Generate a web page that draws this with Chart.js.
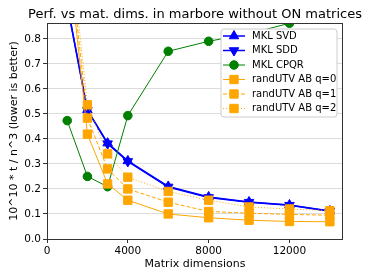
<!DOCTYPE html>
<html>
<head>
<meta charset="utf-8">
<script src="https://cdn.jsdelivr.net/npm/chart.js"></script>
<style>
html,body{margin:0;padding:0;background:#fff;}
#wrap{width:374px;height:280px;}
</style>
</head>
<body>
<div id="wrap"><canvas id="c" width="374" height="280"></canvas></div>
<script>
const dims = [1000, 2000, 3000, 4000, 6000, 8000, 10000, 12000, 14000];
const mklSvd = [0.94, 0.516, 0.383, 0.312, 0.21, 0.168, 0.148, 0.136, 0.112];
const mklSdd = [0.935, 0.514, 0.381, 0.31, 0.208, 0.166, 0.147, 0.135, 0.111];
const mklCpqr = [0.473, 0.25, 0.209, 0.493, 0.75, 0.79, 0.82, 0.862, 0.9];
const randQ0 = [1.18, 0.419, 0.22, 0.155, 0.1, 0.085, 0.075, 0.07, 0.069];
const randQ1 = [1.22, 0.483, 0.28, 0.2, 0.147, 0.11, 0.103, 0.098, 0.095];
const randQ2 = [1.29, 0.536, 0.34, 0.247, 0.19, 0.155, 0.128, 0.12, 0.113];
const yTicks = [0, 0.1, 0.2, 0.3, 0.4, 0.5, 0.6, 0.7, 0.8];
const xTicks = [0, 4000, 8000, 12000];
const labels = ['MKL SVD', 'MKL SDD', 'MKL CPQR', 'randUTV AB q=0', 'randUTV AB q=1', 'randUTV AB q=2'];

const FONT = 'DejaVu Sans';
const BLUE = '#0000ff', GREEN = '#008000', ORANGE = '#ffa500';

function pts(arr) { return dims.map((d, i) => ({x: d, y: arr[i]})); }

const styles = [
  {color: BLUE, style: 'triangle', rot: 0, r: 5.5, lw: 1.5, dash: []},
  {color: BLUE, style: 'triangle', rot: 180, r: 5.5, lw: 1.5, dash: []},
  {color: GREEN, style: 'circle', rot: 0, r: 4.3, lw: 1, dash: []},
  {color: ORANGE, style: 'rect', rot: 0, r: 5.9, lw: 1, dash: []},
  {color: ORANGE, style: 'rect', rot: 0, r: 5.9, lw: 1, dash: [4, 2]},
  {color: ORANGE, style: 'rect', rot: 0, r: 5.9, lw: 1, dash: [1, 2]}
];
const series = [mklSvd, mklSdd, mklCpqr, randQ0, randQ1, randQ2];

const datasets = series.map((s, i) => ({
  label: labels[i],
  data: pts(s),
  borderColor: styles[i].color,
  backgroundColor: styles[i].color,
  borderWidth: styles[i].lw,
  borderDash: styles[i].dash,
  pointStyle: styles[i].style,
  pointRotation: styles[i].rot,
  pointRadius: styles[i].r,
  pointBorderWidth: 1,
  pointBorderColor: styles[i].color,
  pointBackgroundColor: styles[i].color,
  tension: 0,
  order: 5 - i
}));

const titleShift = {
  id: 'titleShift',
  afterLayout(chart) {
    const tb = chart.titleBlock;
    const a = chart.chartArea;
    if (tb) {
      const c = (a.left + a.right) / 2;
      tb.left = c - 185; tb.right = c + 185; tb.width = 370;
    }
  }
};

const framePlugin = {
  id: 'frame',
  afterDatasetsDraw(chart) {
    const {ctx, chartArea: a} = chart;
    ctx.save();
    ctx.strokeStyle = '#333';
    ctx.lineWidth = 1;
    ctx.setLineDash([]);
    ctx.strokeRect(Math.round(a.left) + 0.5, Math.round(a.top) + 0.5, Math.round(a.right - a.left) - 1, Math.round(a.bottom - a.top));
    ctx.restore();
  }
};

function drawMarker(ctx, st, x, y) {
  ctx.fillStyle = st.color;
  ctx.strokeStyle = st.color;
  ctx.lineWidth = 1;
  ctx.setLineDash([]);
  ctx.beginPath();
  if (st.style === 'circle') {
    ctx.arc(x, y, st.r, 0, Math.PI * 2);
  } else if (st.style === 'rect') {
    const s = st.r * Math.SQRT1_2;
    ctx.rect(x - s, y - s, 2 * s, 2 * s);
  } else {
    let rad = st.rot * Math.PI / 180;
    for (let k = 0; k < 3; k++) {
      const px = x + Math.sin(rad) * st.r, py = y - Math.cos(rad) * st.r;
      if (k === 0) ctx.moveTo(px, py); else ctx.lineTo(px, py);
      rad += 2 * Math.PI / 3;
    }
    ctx.closePath();
  }
  ctx.fill();
  ctx.stroke();
}

const legendPlugin = {
  id: 'mplLegend',
  afterDraw(chart) {
    const ctx = chart.ctx;
    const bx = 221, by = 29, bw = 116, bh = 88, rr = 3;
    ctx.save();
    ctx.beginPath();
    ctx.moveTo(bx + rr, by);
    ctx.arcTo(bx + bw, by, bx + bw, by + bh, rr);
    ctx.arcTo(bx + bw, by + bh, bx, by + bh, rr);
    ctx.arcTo(bx, by + bh, bx, by, rr);
    ctx.arcTo(bx, by, bx + bw, by, rr);
    ctx.closePath();
    ctx.fillStyle = '#ffffff';
    ctx.fill();
    ctx.strokeStyle = '#cccccc';
    ctx.lineWidth = 1;
    ctx.stroke();
    ctx.font = '10px "' + FONT + '"';
    ctx.textBaseline = 'middle';
    ctx.textAlign = 'left';
    for (let i = 0; i < labels.length; i++) {
      const st = styles[i];
      const y = 36 + i * 14.5;
      ctx.beginPath();
      ctx.strokeStyle = st.color;
      ctx.lineWidth = st.lw;
      ctx.setLineDash(st.dash);
      ctx.moveTo(223, y);
      ctx.lineTo(245, y);
      ctx.stroke();
      drawMarker(ctx, st, 234, y);
      ctx.fillStyle = '#000';
      ctx.fillText(labels[i], 252, y);
    }
    ctx.restore();
  }
};

new Chart(document.getElementById('c'), {
  type: 'line',
  data: {datasets},
  plugins: [titleShift, framePlugin, legendPlugin],
  options: {
    responsive: false,
    animation: false,
    devicePixelRatio: 1,
    layout: {padding: {left: 0, right: 31, top: 0, bottom: 0}},
    plugins: {
      legend: {display: false},
      tooltip: {enabled: false},
      title: {
        display: true,
        text: 'Perf. vs mat. dims. in marbore without ON matrices',
        color: '#000',
        font: {family: FONT, size: 13, weight: 'normal'},
        padding: {top: 7, bottom: 0.4}
      }
    },
    scales: {
      x: {
        type: 'linear',
        min: 0,
        max: 14650,
        afterFit(s) { s.height = 41; },
        afterBuildTicks(s) { s.ticks = xTicks.map(v => ({value: v})); },
        grid: {drawOnChartArea: false, drawTicks: true, tickLength: 4, tickColor: '#333'},
        border: {display: false},
        ticks: {color: '#000', font: {family: FONT, size: 10.5}, padding: 2, maxRotation: 0, callback: v => String(v)},
        title: {display: true, text: 'Matrix dimensions', color: '#000', font: {family: FONT, size: 11}, padding: {top: 0, bottom: 9.4}}
      },
      y: {
        type: 'linear',
        min: 0,
        max: 0.863,
        afterFit(s) { s.width = 47; },
        afterBuildTicks(s) { s.ticks = yTicks.map(v => ({value: v})); },
        grid: {color: '#dcdcdc', lineWidth: 1, drawTicks: true, tickLength: 4, tickColor: '#333'},
        border: {display: false},
        ticks: {color: '#000', font: {family: FONT, size: 10.5}, padding: 2, callback: v => Number(v).toFixed(1)},
        title: {display: true, text: '10^10 * t / n^3 (lower is better)', color: '#000', font: {family: FONT, size: 11}, padding: {top: 7.4, bottom: 0}}
      }
    }
  }
});
</script>
</body>
</html>
